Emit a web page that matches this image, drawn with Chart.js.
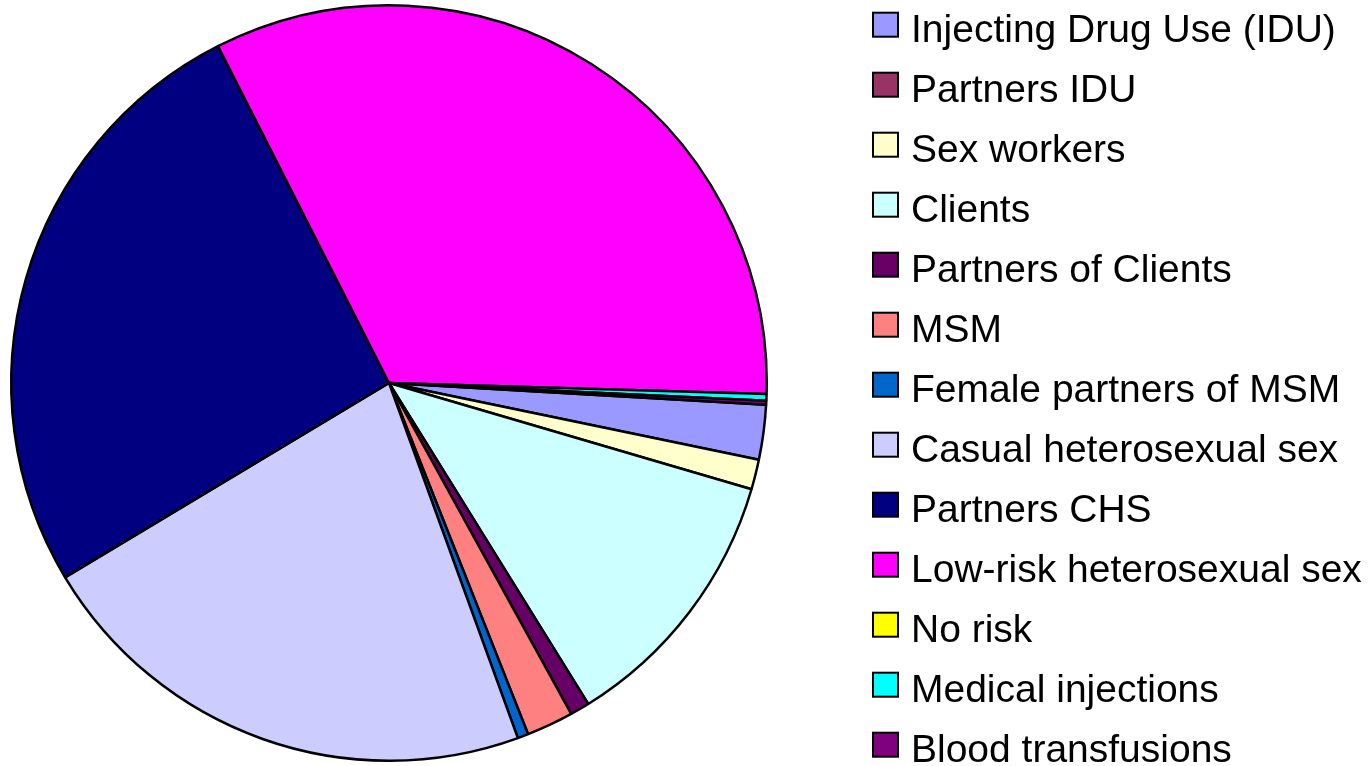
<!DOCTYPE html>
<html>
<head>
<meta charset="utf-8">
<title>Risk groups</title>
<script src="https://cdn.jsdelivr.net/npm/chart.js@4/dist/chart.umd.min.js"></script>
<style>
  html, body { margin: 0; padding: 0; background: #fff; }
  #wrap { position: relative; width: 1371px; height: 766px; }
</style>
</head>
<body>
<div id="wrap"><canvas id="pie-chart"></canvas></div>
<script>
const labels = ['Injecting Drug Use (IDU)', 'Partners IDU', 'Sex workers', 'Clients', 'Partners of Clients', 'MSM',
  'Female partners of MSM', 'Casual heterosexual sex', 'Partners CHS', 'Low-risk heterosexual sex', 'No risk',
  'Medical injections', 'Blood transfusions'];
// share of infections, percent
const shares = [2.34, 0, 1.28, 11.62, 0.83, 2.01, 0.46, 21.94, 26.12, 32.94, 0, 0.28, 0.17];
const colors = ['#9999FF', '#993366', '#FFFFCC', '#CCFFFF', '#660066', '#FF8080',
  '#0066CC', '#CCCCFF', '#000080', '#FF00FF', '#FFFF00', '#00FFFF', '#800080'];

// legend drawn by hand so all 13 rows fit in one column
const sideLegend = {
  id: 'sideLegend',
  afterDraw(chart) {
    const ctx = chart.ctx;
    ctx.save();
    ctx.font = '39px "Liberation Sans", Arial, sans-serif';
    ctx.textBaseline = 'alphabetic';
    chart.data.labels.forEach((text, i) => {
      const cy = 24.7 + i * 60;
      ctx.fillStyle = colors[i];
      ctx.fillRect(873, cy - 12, 25, 24);
      ctx.lineWidth = 2;
      ctx.strokeStyle = '#000';
      ctx.strokeRect(873, cy - 12, 25, 24);
      ctx.fillStyle = '#000';
      ctx.fillText(text, 911, cy + 17);
    });
    ctx.restore();
  }
};

new Chart(document.getElementById('pie-chart'), {
  type: 'pie',
  data: {
    labels: labels,
    datasets: [{
      data: shares,
      backgroundColor: colors,
      borderColor: '#000',
      borderWidth: 2.5,
      hoverOffset: 0
    }]
  },
  options: {
    responsive: true,
    maintainAspectRatio: false,
    animation: false,
    rotation: 93.3,
    layout: { padding: { left: 10, right: 603, top: 4, bottom: 4 } },
    plugins: {
      legend: { display: false },
      tooltip: { enabled: false }
    }
  },
  plugins: [sideLegend]
});
</script>
</body>
</html>
